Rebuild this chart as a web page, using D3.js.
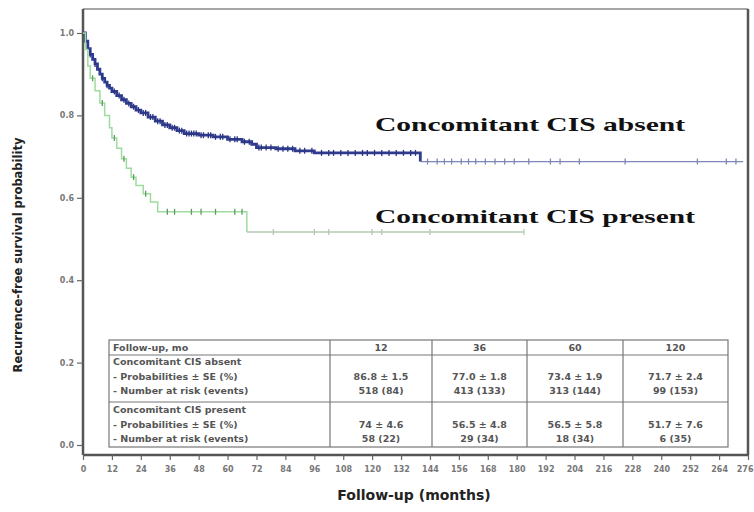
<!DOCTYPE html>
<html>
<head>
<meta charset="utf-8">
<script src="https://cdn.jsdelivr.net/npm/d3@7"></script>
<style>
  body { margin: 0; background: #fff; }
  svg { display: block; }
</style>
</head>
<body>
<svg id="chart" width="754" height="512"></svg>
<script>
// --- data ---
const xTicks = [0, 12, 24, 36, 48, 60, 72, 84, 96, 108, 120, 132, 144, 156, 168, 180, 192, 204, 216, 228, 240, 252, 264, 276];
const yTicks = [0, 0.2, 0.4, 0.6, 0.8, 1.0];

// Kaplan-Meier steps: time (months) and survival after that time
const absentTimes = [0, 1, 2, 3, 4, 5, 6, 7, 8, 9, 10, 11, 12, 14, 16, 18, 20, 22, 24, 27, 30, 33, 36, 39, 42, 48, 54, 60, 66, 70, 72, 80, 88, 96, 140];
const absentSurv  = [1.0, 0.98, 0.962, 0.948, 0.936, 0.925, 0.912, 0.9, 0.89, 0.881, 0.873, 0.866, 0.858, 0.848, 0.838, 0.829, 0.821, 0.813, 0.806, 0.796, 0.786, 0.777, 0.77, 0.763, 0.756, 0.752, 0.748, 0.742, 0.736, 0.73, 0.722, 0.719, 0.714, 0.709, 0.688];
const absentEnd = 274;
const absentCensored = [3, 5, 8, 10, 13, 15, 17, 19, 21, 23, 25, 26, 28, 29, 31, 32, 34, 35, 37, 38, 40, 41, 43, 44, 45, 46, 47, 49, 50, 52, 53, 55, 57, 58, 61, 63, 64, 67, 69, 73, 74, 76, 78, 81, 83, 85, 87, 90, 92, 95, 99, 102, 104, 107, 110, 113, 116, 118, 121, 124, 127, 130, 133, 136, 138, 143, 147, 150, 153, 157, 160, 163, 167, 171, 175, 179, 185, 194, 198, 206, 225, 255, 267, 271];

const presentTimes = [0, 1, 2, 3, 5, 7, 9, 11, 12, 14, 16, 18, 20, 22, 25, 28, 31, 68];
const presentSurv  = [1.0, 0.96, 0.92, 0.89, 0.86, 0.83, 0.8, 0.77, 0.745, 0.72, 0.695, 0.672, 0.65, 0.63, 0.61, 0.59, 0.566, 0.517];
const presentEnd = 183;
const presentCensored = [4, 8, 13, 17, 21, 26, 35, 38, 45, 49, 55, 63, 66, 79, 96, 102, 120, 124, 144, 183];

const seriesLabels = ["Concomitant CIS absent", "Concomitant CIS present"];

const tableHeader = ["Follow-up, mo", "12", "36", "60", "120"];
const tableRows = [
  ["Concomitant CIS absent", "", "", "", ""],
  ["- Probabilities \u00b1 SE (%)", "86.8 \u00b1 1.5", "77.0 \u00b1 1.8", "73.4 \u00b1 1.9", "71.7 \u00b1 2.4"],
  ["- Number at risk (events)", "518 (84)", "413 (133)", "313 (144)", "99 (153)"],
  ["Concomitant CIS present", "", "", "", ""],
  ["- Probabilities \u00b1 SE (%)", "74 \u00b1 4.6", "56.5 \u00b1 4.8", "56.5 \u00b1 5.8", "51.7 \u00b1 7.6"],
  ["- Number at risk (events)", "58 (22)", "29 (34)", "18 (34)", "6 (35)"]
];

// --- layout ---
const frame = { left: 83, right: 748, top: 9, bottom: 455 };
const svg = d3.select("#chart");

const x = d3.scaleLinear().domain([0, 276]).range([frame.left, frame.right]);
const y = d3.scaleLinear().domain([0, 1]).range([445, 33]);

// frame
svg.append("line").attr("x1", frame.left).attr("x2", frame.right)
  .attr("y1", frame.top).attr("y2", frame.top)
  .attr("stroke", "#888").attr("stroke-width", 1.5);
svg.append("line").attr("x1", frame.right).attr("x2", frame.right)
  .attr("y1", frame.top).attr("y2", frame.bottom)
  .attr("stroke", "#555").attr("stroke-width", 2.5);

// axes
const xAxis = svg.append("g")
  .attr("transform", `translate(0,${frame.bottom})`)
  .call(d3.axisBottom(x).tickValues(xTicks).tickSize(5).tickFormat(d3.format("d")));
const yAxis = svg.append("g")
  .attr("transform", `translate(${frame.left},0)`)
  .call(d3.axisLeft(y).tickValues(yTicks).tickSize(6).tickFormat(d3.format(".1f")));

[xAxis, yAxis].forEach((g) => {
  g.select(".domain").attr("stroke", "#555").attr("stroke-width", 2.5);
  g.selectAll(".tick line").attr("stroke", "#666").attr("stroke-width", 1.2);
  g.selectAll(".tick text")
    .attr("fill", "#777")
    .style("font-family", "DejaVu Sans, sans-serif")
    .style("font-size", "8px")
    .style("font-weight", "bold");
});
xAxis.select(".domain").attr("d", `M${frame.left},0H${frame.right}`);
yAxis.select(".domain").attr("d", `M0,${frame.top}V${frame.bottom}`);
xAxis.selectAll(".tick text").attr("dy", "1.1em");
// last label sits on the right edge, as in the original; keep it inside the window
xAxis.selectAll(".tick text").filter((d) => d === 276).attr("text-anchor", "end").attr("dx", "5");

// axis titles
svg.append("text")
  .attr("transform", "translate(22,255) rotate(-90)")
  .attr("text-anchor", "middle")
  .attr("fill", "#222")
  .style("font-family", "DejaVu Sans, sans-serif")
  .style("font-size", "11.5px")
  .style("font-weight", "bold")
  .text("Recurrence-free survival probability");

svg.append("text")
  .attr("x", 414).attr("y", 500)
  .attr("text-anchor", "middle")
  .attr("fill", "#222")
  .style("font-family", "DejaVu Sans, sans-serif")
  .style("font-size", "14px")
  .style("font-weight", "bold")
  .text("Follow-up (months)");

// survival curves
function stepPoints(times, surv, end) {
  const pts = times.map((t, i) => [t, surv[i]]);
  pts.push([end, surv[surv.length - 1]]);
  return pts;
}
function survAt(times, surv, t) {
  let s = surv[0];
  times.forEach((tt, i) => { if (tt <= t) s = surv[i]; });
  return s;
}

const line = d3.line()
  .x((d) => x(d[0]))
  .y((d) => y(d[1]))
  .curve(d3.curveStepAfter);

const series = [
  { times: absentTimes, surv: absentSurv, end: absentEnd, cens: absentCensored,
    color: "#2f3b8e", tailColor: "#7d86b4", tickColor: "#2a3580", width: 2.8 },
  { times: presentTimes, surv: presentSurv, end: presentEnd, cens: presentCensored,
    color: "#9edc9e", tailColor: "#b4c8b4", tickColor: "#5c9a62", width: 1.5 }
];

series.forEach((s) => {
  const pts = stepPoints(s.times, s.surv, s.end);
  const lastStep = s.times[s.times.length - 1];
  // main part drawn heavy; the sparse tail after the last event lighter
  svg.append("path")
    .datum(pts.slice(0, pts.length - 1))
    .attr("fill", "none")
    .attr("stroke", s.color)
    .attr("stroke-width", s.width)
    .attr("d", line);
  svg.append("path")
    .datum(pts.slice(pts.length - 2))
    .attr("fill", "none")
    .attr("stroke", s.tailColor)
    .attr("stroke-width", 1.3)
    .attr("d", line);

  svg.append("g").selectAll("line")
    .data(s.cens)
    .join("line")
    .attr("x1", (d) => x(d)).attr("x2", (d) => x(d))
    .attr("y1", (d) => y(survAt(s.times, s.surv, d)) - 3)
    .attr("y2", (d) => y(survAt(s.times, s.surv, d)) + 3)
    .attr("stroke", (d) => d > lastStep ? s.tailColor : s.tickColor)
    .attr("stroke-width", 1.3);
});

// curve labels
const labelPos = [{ y: 131, len: 310 }, { y: 223, len: 320 }];
seriesLabels.forEach((lab, i) => {
  svg.append("text")
    .attr("x", 375).attr("y", labelPos[i].y)
    .attr("textLength", labelPos[i].len)
    .attr("lengthAdjust", "spacingAndGlyphs")
    .attr("fill", "#111")
    .style("font-family", "Liberation Serif, serif")
    .style("font-size", "19px")
    .style("font-weight", "bold")
    .text(lab);
});

// table
const colEdges = [109, 330, 432, 527, 623, 728];
const tTop = 340, tHead = 355, tSep = 402, tBottom = 447;
const rowBase = [365, 380, 394, 413, 428, 442];
const tbl = svg.append("g");
const tStroke = "#777";

tbl.append("rect")
  .attr("x", colEdges[0]).attr("y", tTop)
  .attr("width", colEdges[5] - colEdges[0]).attr("height", tBottom - tTop)
  .attr("fill", "#fff").attr("stroke", tStroke).attr("stroke-width", 1.2);
[tHead, tSep].forEach((yy) => {
  tbl.append("line").attr("x1", colEdges[0]).attr("x2", colEdges[5])
    .attr("y1", yy).attr("y2", yy).attr("stroke", tStroke).attr("stroke-width", 1.2);
});
colEdges.slice(1, 5).forEach((xx) => {
  tbl.append("line").attr("x1", xx).attr("x2", xx)
    .attr("y1", tTop).attr("y2", tBottom).attr("stroke", tStroke).attr("stroke-width", 1.2);
});

function cellText(str, col, yy) {
  const left = col === 0;
  tbl.append("text")
    .attr("x", left ? colEdges[0] + 4 : (colEdges[col] + colEdges[col + 1]) / 2)
    .attr("y", yy)
    .attr("text-anchor", left ? "start" : "middle")
    .attr("fill", "#555")
    .style("font-family", "DejaVu Sans, sans-serif")
    .style("font-size", "9.5px")
    .style("font-weight", "bold")
    .text(str);
}
tableHeader.forEach((h, c) => cellText(h, c, 351));
tableRows.forEach((row, r) => row.forEach((v, c) => { if (v) cellText(v, c, rowBase[r]); }));
</script>
</body>
</html>
